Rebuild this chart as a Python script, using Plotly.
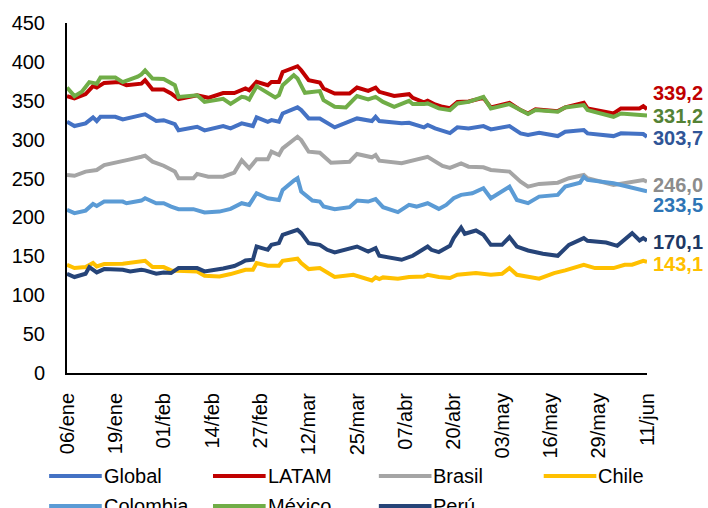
import pandas as pd
import plotly.graph_objects as go

# Daily index values, sampled as (day offset from 06/ene, value)
START = "2022-01-06"

global_dias = [0, 2, 5, 7, 8, 9, 13, 15, 20, 21, 24, 26, 29, 30, 35, 37, 42, 44, 47, 48, 50, 51, 54, 55, 57, 58,
               62, 63, 65, 68, 70, 72, 78, 82, 83, 84, 90, 92, 96, 97, 99, 101, 103, 105, 108, 112, 114, 119, 122,
               124, 127, 132, 134, 139, 140, 147, 149, 155, 156]
global_vals = [323, 317.5, 321, 328.6, 324, 329.4, 329.4, 326, 331.6, 332.5, 324, 325, 320, 312, 316.6, 312, 317.5,
               314.5, 321, 320, 317.5, 328.6, 323, 325.2, 323, 333.7, 341.5, 338, 327.3, 327.3, 321.7, 315.8, 327.3,
               324, 329.4, 324, 321, 321.7, 315.8, 318.8, 314.5, 311.2, 308.5, 315.8, 314.5, 317.5, 313.2, 317.5,
               308.1, 306, 308.9, 304.6, 310.2, 312.3, 308.1, 304.6, 308.1, 307.2, 303.7]

latam_dias = [0, 2, 5, 7, 8, 10, 14, 16, 20, 21, 23, 26, 28, 30, 35, 38, 42, 45, 48, 49, 51, 54, 55, 57, 58, 62, 63,
              65, 68, 69, 72, 76, 78, 81, 83, 84, 88, 92, 93, 96, 97, 99, 101, 103, 105, 108, 112, 114, 119, 122, 124,
              126, 132, 134, 139, 140, 147, 149, 154, 155, 156]
latam_vals = [356, 353, 358.5, 368.8, 367, 373, 374, 370, 372, 376.5, 364.5, 364.5, 359.4, 352, 357, 353.8, 360, 360,
              365.8, 363.6, 374.3, 370, 374.3, 374.3, 387, 394.4, 389.3, 376.5, 373.5, 365.8, 359.4, 359.4, 367,
              362.8, 367, 361.5, 356.3, 358.5, 353.8, 347.9, 350, 345.3, 342.2, 340.5, 348.6, 349, 353.8, 341.5,
              347.4, 338, 333.7, 338.9, 336.7, 341.5, 347.4, 340.2, 333.7, 340.2, 340.2, 343.1, 339.2]

brasil_dias = [0, 2, 5, 8, 10, 14, 17, 20, 21, 23, 26, 29, 30, 34, 35, 38, 42, 45, 47, 49, 51, 54, 55, 57, 58, 62, 63,
               65, 68, 71, 76, 78, 82, 83, 84, 90, 92, 97, 101, 103, 106, 108, 112, 114, 119, 122, 124, 127, 132, 135,
               139, 140, 147, 151, 155, 156]
brasil_vals = [254.6, 253.5, 258.9, 261, 267.4, 270.9, 274.7, 278, 279.4, 271.7, 266.5, 259, 250.4, 250.4, 256, 252.4,
               252.4, 257.6, 273.5, 263.2, 274.7, 274.7, 284.5, 280.3, 288.8, 303.7, 299.5, 284.5, 283.2, 270.4,
               271.7, 281.6, 277.3, 280.3, 273, 269.6, 271.7, 278, 266.3, 263.8, 269.5, 265.3, 264.5, 261, 258.9,
               246, 239.6, 243.1, 244.7, 250.4, 254.6, 250.4, 241.8, 244.7, 248.2, 246.0]

chile_dias = [0, 2, 5, 7, 8, 10, 15, 20, 21, 23, 26, 28, 35, 37, 41, 44, 47, 48, 50, 51, 54, 57, 58, 62, 63, 65, 68,
              72, 77, 82, 83, 84, 85, 89, 92, 96, 97, 100, 103, 105, 110, 114, 117, 119, 121, 127, 131, 134, 139, 142,
              147, 150, 152, 155, 156]
chile_vals = [139.2, 135, 136.2, 141.4, 137, 140, 140.5, 143.4, 144.3, 136.2, 136.2, 131.9, 130.6, 125, 124.2, 127.2,
              130.6, 132.8, 132.8, 141.4, 137.9, 137.9, 144.3, 146.9, 141.4, 133.6, 135, 123.4, 126.3, 119, 122.9,
              120.8, 122.9, 121.2, 123.4, 124.2, 126.3, 123.4, 122.1, 126.3, 128.5, 126.3, 127.6, 134.9, 126.3,
              121.2, 128.5, 131.9, 139.2, 134.9, 134.9, 139.2, 139.2, 144.3, 143.1]

colombia_dias = [0, 2, 5, 7, 8, 10, 15, 16, 20, 21, 24, 26, 28, 30, 34, 37, 41, 44, 47, 49, 51, 54, 57, 58, 61, 62,
                 63, 66, 68, 69, 72, 76, 78, 81, 83, 85, 89, 92, 94, 97, 100, 102, 104, 106, 109, 112, 114, 119, 121,
                 124, 127, 132, 134, 138, 139, 140, 147, 151, 156]
colombia_vals = [209.7, 205.5, 208.8, 217.4, 214.8, 220.4, 220.4, 218.3, 221.7, 224.7, 218.3, 218.3, 214, 210.6,
                 210.6, 206.3, 207.5, 211, 218.3, 216.1, 231.1, 224.7, 222.5, 235.4, 247.3, 250.4, 233.2, 221.7,
                 220.4, 214, 210.6, 213.2, 221.7, 220.4, 223.5, 213.2, 206.8, 216.1, 214, 218.3, 211, 216.1, 224.7,
                 229, 231.1, 237.6, 224.7, 239.6, 222.5, 218.3, 226.8, 229, 239.6, 244.7, 252, 248.2, 244, 239.6,
                 233.5]

mexico_dias = [0, 2, 4, 6, 8, 9, 13, 15, 19, 20, 21, 23, 26, 29, 30, 35, 37, 42, 44, 47, 48, 49, 51, 53, 56, 57, 58,
               61, 62, 64, 68, 69, 72, 75, 78, 81, 83, 85, 88, 92, 93, 96, 97, 100, 103, 105, 108, 112, 114, 119, 122,
               124, 126, 132, 134, 139, 140, 147, 149, 156]
mexico_vals = [367, 356, 361.5, 374, 372, 380, 380, 374, 381, 384, 389, 378.6, 378, 370, 355, 357, 348.6, 352.5, 346,
               355, 354.3, 351.7, 368.8, 362.8, 354.3, 357.2, 370, 382.9, 378.6, 360.2, 362.4, 350.8, 342.2, 341.5,
               356, 351.7, 355, 348.6, 342.2, 350, 345.7, 345.7, 346.6, 340.2, 338, 346.6, 348.6, 355, 340.2, 345.7,
               338, 332.9, 338, 335.8, 341.5, 344.4, 338, 329.4, 333.7, 331.2]

peru_dias = [0, 2, 5, 6, 8, 10, 15, 17, 20, 21, 24, 26, 28, 30, 35, 37, 42, 45, 47, 48, 50, 51, 54, 55, 57, 58, 62, 63,
             65, 68, 70, 72, 78, 81, 83, 84, 90, 93, 97, 98, 100, 103, 104, 106, 107, 110, 112, 114, 117, 119, 121,
             124, 128, 132, 135, 139, 140, 145, 148, 152, 154, 155, 156]
peru_vals = [127.6, 123.4, 127.6, 136.2, 129.3, 133.6, 132.8, 130.6, 132.8, 132, 127.6, 129.3, 128.5, 134.9, 134.9,
             130.6, 134.3, 137.5, 142.1, 144.7, 145.6, 162.6, 158.4, 164.8, 167, 177.7, 184.1, 179.8, 167, 164.8,
             158.4, 155, 162.6, 156.2, 160.6, 150.7, 145.6, 150.7, 162.6, 158.4, 155.5, 163.5, 173.4, 187, 179,
             183.2, 177.7, 164.8, 164.8, 174.7, 162.6, 157.5, 153.3, 150.7, 164.8, 173.4, 170, 167.8, 163.5, 179.8,
             170.3, 173.4, 170.1]

tick_text = ["06/ene", "19/ene", "01/feb", "14/feb", "27/feb", "12/mar", "25/mar",
             "07/abr", "20/abr", "03/may", "16/may", "29/may", "11/jun"]

series = [
    ("Global", global_dias, global_vals, "#4472C4", "#2F5597", 137.5),
    ("LATAM", latam_dias, latam_vals, "#C00000", "#C00000", 93.0),
    ("Brasil", brasil_dias, brasil_vals, "#A5A5A5", "#8C8C8C", 185.0),
    ("Chile", chile_dias, chile_vals, "#FFC000", "#FFC000", 264.0),
    ("Colombia", colombia_dias, colombia_vals, "#5B9BD5", "#2E75B6", 205.0),
    ("México", mexico_dias, mexico_vals, "#70AD47", "#548235", 116.0),
    ("Perú", peru_dias, peru_vals, "#264478", "#203864", 242.0),
]

W, H = 708, 508
L, R, T, B = 63, 61, 23, 135
PW, PH = W - L - R, H - T - B


def px_x(px):
    return (px - L) / PW


def px_y(py):
    return (H - B - py) / PH


start = pd.Timestamp(START)
fig = go.Figure()
shapes, annotations = [], []

for name, dias, vals, color, label_color, label_y in series:
    fechas = start + pd.to_timedelta(dias, unit="D")
    fig.add_trace(go.Scatter(x=fechas, y=vals, mode="lines", name=name,
                             line=dict(color=color, width=4), showlegend=False))
    # value tag at the right end of each line
    annotations.append(dict(
        x=px_x(651), y=px_y(label_y), xref="paper", yref="paper",
        text=f"{vals[-1]:.1f}".replace(".", ","), showarrow=False,
        xanchor="left", yanchor="middle",
        font=dict(family="Liberation Sans, Arial", size=20, color=label_color, weight="bold")))

# legend laid out in a 4-column grid under the axis
legend_order = ["Global", "LATAM", "Brasil", "Chile", "Colombia", "México", "Perú"]
col_x = [45, 210, 377, 543]
row_y = [476, 506]
colors = {s[0]: s[3] for s in series}
for i, name in enumerate(legend_order):
    cx, ry = col_x[i % 4], row_y[i // 4]
    shapes.append(dict(type="line", xref="paper", yref="paper",
                       x0=px_x(cx), x1=px_x(cx + 53), y0=px_y(ry), y1=px_y(ry),
                       line=dict(color=colors[name], width=4)))
    annotations.append(dict(x=px_x(cx + 53), y=px_y(ry), xref="paper", yref="paper",
                            text=name, showarrow=False, xanchor="left", yanchor="middle",
                            font=dict(family="Liberation Sans, Arial", size=20, color="#000000")))

tick_vals = [start + pd.Timedelta(days=13 * k) for k in range(len(tick_text))]

fig.update_layout(
    width=W, height=H,
    margin=dict(l=L, r=R, t=T, b=B),
    paper_bgcolor="white", plot_bgcolor="white",
    font=dict(family="Liberation Sans, Arial", size=20, color="#000000"),
    shapes=shapes, annotations=annotations,
    xaxis=dict(type="date", range=[tick_vals[0], tick_vals[-1]],
               tickvals=tick_vals, ticktext=tick_text, tickangle=-90,
               showgrid=False, zeroline=False, showline=True, linecolor="#000000", linewidth=2,
               ticks="", ticklabelstandoff=10, tickfont=dict(size=20)),
    yaxis=dict(range=[0, 450], dtick=50, tick0=0, showgrid=False, zeroline=False,
               showline=True, linecolor="#000000", linewidth=2, ticks="",
               ticklabelstandoff=16, tickfont=dict(size=20)),
)

fig.write_html("out.html")
